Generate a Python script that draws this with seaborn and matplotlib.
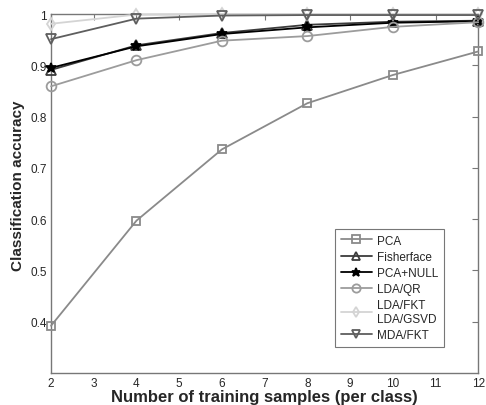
import matplotlib
matplotlib.use("Agg")
import matplotlib.pyplot as plt
import seaborn as sns
import pandas as pd

samples = [2, 4, 6, 8, 10, 12]
pca = [0.392, 0.597, 0.736, 0.826, 0.881, 0.927]
fisherface = [0.891, 0.939, 0.963, 0.979, 0.985, 0.987]
pca_null = [0.895, 0.937, 0.961, 0.974, 0.983, 0.986]
lda_qr = [0.859, 0.910, 0.948, 0.957, 0.975, 0.984]
lda_fkt = [0.981, 0.999, 1.0, 1.0, 1.0, 1.0]
mda_fkt = [0.951, 0.991, 0.997, 0.998, 0.998, 0.998]

names = ["PCA", "Fisherface", "PCA+NULL", "LDA/QR", "LDA/FKT\nLDA/GSVD", "MDA/FKT"]
series = [pca, fisherface, pca_null, lda_qr, lda_fkt, mda_fkt]
colors = ["#8a8a8a", "#3c3c3c", "#000000", "#9c9c9c", "#d4d4d4", "#5e5e5e"]
markers = ["s", "^", "*", "o", "d", "v"]
msizes = [6, 7, 7.5, 7, 6, 7]

rows = []
for n, s in zip(names, series):
    for x, y in zip(samples, s):
        rows.append({"x": x, "y": y, "method": n})
df = pd.DataFrame(rows)

sns.set_style("white")
plt.rcParams["font.family"] = ["Liberation Sans", "DejaVu Sans"]

fig = plt.figure(figsize=(4.86, 4.06), dpi=100)
ax = fig.add_axes([0.105, 0.079, 0.879, 0.884])

for n, c, m, ms in zip(names, colors, markers, msizes):
    sub = df[df["method"] == n]
    sns.lineplot(data=sub, x="x", y="y", ax=ax, color=c, marker=m,
                 markersize=ms, markerfacecolor="none" if m != "*" else c,
                 markeredgecolor=c, markeredgewidth=1.3, linewidth=1.3,
                 label=n, estimator=None, clip_on=False, zorder=3)

ax.set_xlim(2, 12)
ax.set_ylim(0.3, 1.0)
ax.set_xticks(range(2, 13))
ax.set_yticks([0.4, 0.5, 0.6, 0.7, 0.8, 0.9, 1.0])
ax.set_yticklabels(["0.4", "0.5", "0.6", "0.7", "0.8", "0.9", "1"])
ax.tick_params(direction="in", length=4, width=0.8, color="#777777",
               labelsize=8.5, top=True, right=True, pad=3)
for sp in ax.spines.values():
    sp.set_color("#777777")
    sp.set_linewidth(1.0)
ax.set_xlabel("Number of training samples (per class)", fontsize=12,
              fontweight="bold", labelpad=0)
ax.set_ylabel("Classification accuracy", fontsize=11, fontweight="bold")
ax.yaxis.set_label_coords(-0.062, 0.524)

leg = ax.legend(loc="lower right", bbox_to_anchor=(0.933, 0.056), fontsize=8.5,
                frameon=True, fancybox=False, handlelength=2.6,
                borderpad=0.5, labelspacing=0.35, handletextpad=0.4,
                markerscale=0.85)
leg.get_frame().set_edgecolor("#555555")
leg.get_frame().set_linewidth(0.8)

fig.savefig("out.png", dpi=100)
